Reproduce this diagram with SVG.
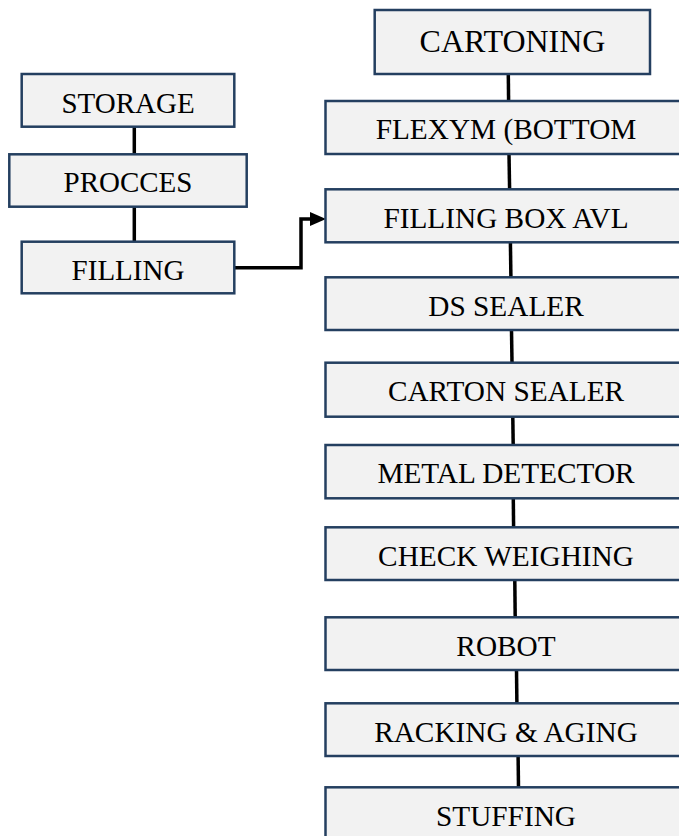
<svg xmlns="http://www.w3.org/2000/svg" width="679" height="836" viewBox="0 0 679 836">
  <style>
    .box { fill: #f2f2f2; stroke: #243f60; stroke-width: 2.5; }
    .lbl { font-family: "Liberation Serif", "Times New Roman", serif; font-size: 29.3px; fill: #000; text-anchor: middle; }
    .lbl-s { font-size: 29px; }
    .lbl-l { font-size: 32px; }
    .link { stroke: #000; stroke-width: 3.5; fill: none; }
  </style>

  <rect width="679" height="836" fill="#fff"/>

  <!-- connectors -->
  <g id="connectors">
    <line class="link" x1="134.3" y1="126.7" x2="134.3" y2="154.3"/>
    <line class="link" x1="134.3" y1="206.7" x2="134.3" y2="241.7"/>
    <polyline class="link" points="234.3,267.7 301,267.7 301,219 311,219"/>
    <path d="M310,212 L326,219 L310,226 Z" fill="#000"/>
    <line class="link" x1="508.3" y1="74" x2="508.6" y2="101"/>
    <line class="link" x1="509.0" y1="154" x2="509.6" y2="189.3"/>
    <line class="link" x1="510.4" y1="242.3" x2="510.9" y2="277.3"/>
    <line class="link" x1="511.5" y1="330" x2="512.0" y2="362.7"/>
    <line class="link" x1="512.8" y1="416.7" x2="513.2" y2="445"/>
    <line class="link" x1="513.3" y1="498.3" x2="513.6" y2="527.3"/>
    <line class="link" x1="514.8" y1="580" x2="515.2" y2="617.3"/>
    <line class="link" x1="516.5" y1="670" x2="516.9" y2="703.3"/>
    <line class="link" x1="518.1" y1="756" x2="518.5" y2="787.3"/>
  </g>

  <!-- left column -->
  <g id="storage">
    <rect class="box" x="21.7" y="74" width="212.6" height="52.7"/>
    <text class="lbl lbl-s" x="128" y="112.7">STORAGE</text>
  </g>
  <g id="procces">
    <rect class="box" x="9.3" y="154.3" width="237.4" height="52.4"/>
    <text class="lbl lbl-s" x="128" y="191.7">PROCCES</text>
  </g>
  <g id="filling">
    <rect class="box" x="21.7" y="241.7" width="212.6" height="51.6"/>
    <text class="lbl lbl-s" x="128" y="280">FILLING</text>
  </g>

  <!-- right column -->
  <g id="cartoning">
    <rect class="box" x="374.7" y="10" width="275.3" height="64"/>
    <text class="lbl lbl-l" x="512.5" y="51.7">CARTONING</text>
  </g>
  <g id="flexym">
    <rect class="box" x="325.5" y="101" width="362" height="53"/>
    <text class="lbl" x="506" y="139.4">FLEXYM (BOTTOM</text>
  </g>
  <g id="filling-box-avl">
    <rect class="box" x="325.5" y="189.3" width="362" height="53"/>
    <text class="lbl" x="506" y="227.8">FILLING BOX AVL</text>
  </g>
  <g id="ds-sealer">
    <rect class="box" x="325.5" y="277.3" width="362" height="52.7"/>
    <text class="lbl" x="506" y="315.8">DS SEALER</text>
  </g>
  <g id="carton-sealer">
    <rect class="box" x="325.5" y="362.7" width="362" height="54"/>
    <text class="lbl" x="506" y="401.2">CARTON SEALER</text>
  </g>
  <g id="metal-detector">
    <rect class="box" x="325.5" y="445" width="362" height="53.3"/>
    <text class="lbl" x="506" y="483.4">METAL DETECTOR</text>
  </g>
  <g id="check-weighing">
    <rect class="box" x="325.5" y="527.3" width="362" height="52.7"/>
    <text class="lbl" x="506" y="565.9">CHECK WEIGHING</text>
  </g>
  <g id="robot">
    <rect class="box" x="325.5" y="617.3" width="362" height="52.7"/>
    <text class="lbl" x="506" y="655.8">ROBOT</text>
  </g>
  <g id="racking-aging">
    <rect class="box" x="325.5" y="703.3" width="362" height="52.7"/>
    <text class="lbl" x="506" y="741.7">RACKING &amp; AGING</text>
  </g>
  <g id="stuffing">
    <rect class="box" x="325.5" y="787.3" width="362" height="60"/>
    <text class="lbl" x="506" y="825.7">STUFFING</text>
  </g>
</svg>
